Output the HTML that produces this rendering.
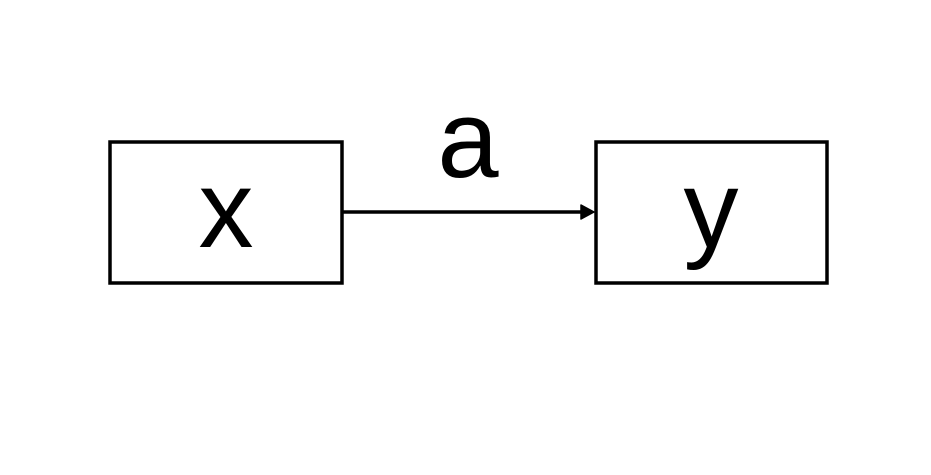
<!DOCTYPE html>
<html><head><style>html,body{margin:0;padding:0;background:#fff;}</style></head>
<body>
<svg width="931" height="470" xmlns="http://www.w3.org/2000/svg">
<rect x="0" y="0" width="931" height="470" fill="#fff"/>
<rect x="110" y="142" width="232" height="141" fill="none" stroke="#000" stroke-width="3.5"/>
<rect x="596" y="142" width="231" height="141" fill="none" stroke="#000" stroke-width="3.5"/>
<line x1="343" y1="212" x2="584" y2="212" stroke="#000" stroke-width="3.5"/>
<path d="M581,205 L594,212 L581,219 Z" fill="#000" stroke="#000" stroke-width="1.5" stroke-linejoin="round"/>
<g font-family="'Liberation Sans', 'DejaVu Sans', sans-serif" font-size="110" text-anchor="middle" fill="#000">
<text x="226" y="247">x</text>
<text x="711" y="247">y</text>
<text x="468" y="177">a</text>
</g>
</svg>
</body></html>
